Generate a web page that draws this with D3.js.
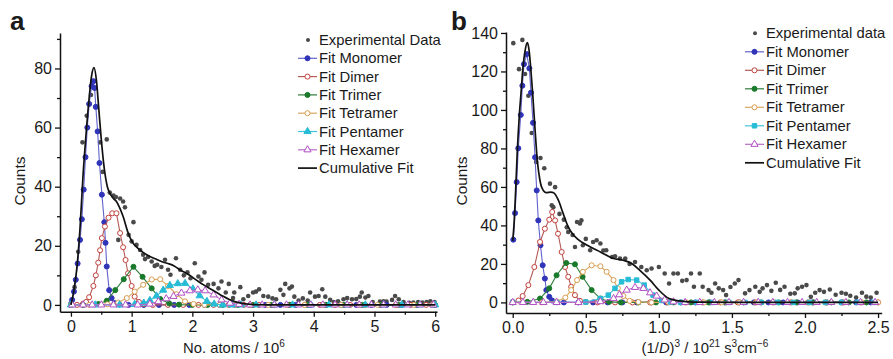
<!DOCTYPE html>
<html>
<head>
<meta charset="utf-8">
<script src="https://cdn.jsdelivr.net/npm/d3@7"></script>
<style>
  body { margin: 0; background: #fff; }
  text { font-family: "Liberation Sans", Arial, sans-serif; fill: #1a1a1a; }
</style>
</head>
<body>
<div id="chart"></div>
<script>
// ---------- panel a : counts vs number of atoms (10^6) ----------
var expA = [[0.01,0.5],[0.06,6],[0.12,18],[0.19,55],[0.26,64],[0.33,71],[0.41,67],[0.48,55],[0.52,45],[0.59,56],
  [0.64,38],[0.7,37],[0.74,36.5],[0.78,22],[0.81,36],[0.86,35],[0.89,33],[0.95,23.7],[1.0,21.5],[1.03,28],
  [1.08,20.3],[1.14,18.6],[1.19,17],[1.22,15.5],[1.27,16.2],[1.33,14.7],[1.38,13.2],[1.42,13.6],[1.49,12.8],[1.55,15.3],
  [1.6,11.9],[1.64,10.2],[1.73,15.8],[1.8,11.9],[1.86,10],[1.92,11],[1.97,9],[2.04,14.1],[2.1,9.6],[2.15,8.5],
  [2.2,11],[2.26,6.8],[2.35,7.1],[2.43,5.6],[2.48,7.9],[2.55,4.2],[2.6,7.1],[2.67,2.3],[2.69,4.2],[2.79,6],
  [2.84,1.9],[2.92,3],[3.0,4.2],[3.05,4.5],[3.1,5.3],[3.17,3],[3.25,2.8],[3.32,2.2],[3.38,1.9],[3.45,5.1],
  [3.5,3.4],[3.53,7.1],[3.6,5.6],[3.64,6.2],[3.68,2.8],[3.75,1.5],[3.82,2.2],[3.9,1.5],[3.94,4.2],[4.02,2.8],
  [4.08,3],[4.14,5.3],[4.19,2.8],[4.27,1.7],[4.33,1],[4.4,1.2],[4.49,1.9],[4.55,2.3],[4.63,1.9],[4.7,2],
  [4.76,2.8],[4.79,4.2],[4.85,2.5],[4.9,3],[4.97,1],[5.09,1.1],[5.15,1.2],[5.2,1.1],[5.29,1.7],[5.34,3],
  [5.4,1.9],[5.48,1],[5.57,0.7],[5.64,0.8],[5.72,1],[5.79,0.8],[5.86,1],[5.92,1.2],[5.99,1]];

var monomerA = [[0,0.3],[0.02,1.7],[0.05,4.5],[0.08,8.5],[0.11,14],[0.15,22],[0.18,29],[0.21,39],[0.24,50],[0.27,60],
  [0.30,68],[0.34,74],[0.37,75.7],[0.39,73.4],[0.41,67],[0.44,58.7],[0.47,48],[0.51,37.3],[0.55,28],[0.57,21],
  [0.59,13],[0.63,5],[0.67,2.3],[0.72,0.6],[0.8,0.1],[0.95,0],[1.2,0],[1.45,0],[1.7,0],[1.95,0],[2.2,0],[2.45,0],
  [2.7,0],[2.95,0],[3.2,0],[3.45,0],[3.7,0],[3.95,0],[4.2,0],[4.45,0],[4.7,0],[4.95,0],[5.2,0],[5.45,0],[5.7,0],[5.95,0]];

var dimerA = [[0,0],[0.1,0],[0.2,0.4],[0.25,1],[0.3,2.6],[0.37,6.4],[0.41,10],[0.45,14.3],[0.48,18.5],[0.51,22.6],
  [0.56,26.5],[0.62,29.5],[0.68,31],[0.75,31],[0.81,24.3],[0.86,19.5],[0.9,15.2],[0.94,10.7],[1.0,6.4],[1.05,2.8],
  [1.12,1],[1.2,0.3],[1.35,0],[1.6,0],[1.85,0],[2.1,0],[2.35,0],[2.6,0],[2.85,0],[3.1,0],[3.35,0],[3.6,0],
  [3.85,0],[4.1,0],[4.35,0],[4.6,0],[4.85,0],[5.1,0],[5.35,0],[5.6,0],[5.85,0]];

var trimerA = [[0,0],[0.2,0],[0.45,0.3],[0.59,1.4],[0.73,5],[0.87,8.7],[1.03,12.9],[1.18,9.5],[1.33,5.6],[1.47,2],
  [1.62,0.5],[1.78,0.1],[2.0,0],[2.25,0],[2.5,0],[2.75,0],[3.0,0],[3.3,0],[3.6,0],[3.9,0],[4.2,0],[4.5,0],
  [4.8,0],[5.1,0],[5.4,0],[5.7,0],[6.0,0]];

var tetramerA = [[0,0],[0.3,0],[0.6,0.2],[0.78,0.8],[0.92,2.3],[1.05,4.5],[1.19,6.8],[1.33,8.6],[1.47,8.7],[1.6,6.4],
  [1.74,3.6],[1.88,1.2],[2.02,0.3],[2.2,0],[2.45,0],[2.7,0],[2.95,0],[3.25,0],[3.55,0],[3.85,0],[4.15,0],
  [4.45,0],[4.75,0],[5.05,0],[5.35,0],[5.65,0],[5.95,0]];

var pentamerA = [[0,0],[0.4,0],[0.8,0],[1.05,0.2],[1.2,0.6],[1.3,1.5],[1.41,3],[1.52,5],[1.63,6.6],[1.76,7.2],
  [1.88,7.3],[2.01,5.4],[2.12,3.1],[2.24,1.2],[2.36,0.3],[2.5,0],[2.65,0],[2.8,0],[3.05,0],[3.35,0],[3.65,0],
  [3.95,0],[4.25,0],[4.55,0],[4.85,0],[5.15,0],[5.45,0],[5.75,0],[6.0,0]];

var hexamerA = [[0.02,0],[0.2,0],[0.35,0],[0.5,0],[0.7,0],[0.9,0],[1.1,0],[1.3,0.3],[1.44,1.1],[1.57,2.1],
  [1.69,2.9],[1.82,4],[1.96,4.8],[2.09,5.1],[2.21,4.8],[2.35,3.4],[2.48,1.7],[2.62,0.6],[2.77,0.2],[2.95,0],
  [3.15,0],[3.35,0],[3.55,0],[3.75,0],[3.95,0],[4.15,0],[4.35,0],[4.55,0],[4.75,0],[4.95,0],[5.15,0],
  [5.35,0],[5.55,0],[5.75,0],[5.97,0]];

var cumulativeA = [[0,0],[0.05,5],[0.1,13],[0.15,26],[0.2,44],[0.25,58],[0.3,70],[0.34,77.5],[0.38,80.3],[0.42,76],
  [0.46,66],[0.5,56],[0.55,46],[0.6,40],[0.65,37.5],[0.7,36],[0.75,35],[0.8,33],[0.86,29.9],[0.94,24.5],
  [1.02,21],[1.1,19.2],[1.2,17.6],[1.3,16.4],[1.4,15.5],[1.5,14.6],[1.6,14],[1.7,13.2],[1.8,11.8],[1.9,10.7],
  [2.0,9.4],[2.1,7.9],[2.2,6.6],[2.3,5.4],[2.4,4.2],[2.5,3],[2.6,1.9],[2.7,1.1],[2.8,0.6],[2.9,0.3],
  [3.0,0.1],[3.5,0],[6.0,0]];

var xTicksA = [0, 1, 2, 3, 4, 5, 6];
var xMinorA = [0.5, 1.5, 2.5, 3.5, 4.5, 5.5];
var yTicksA = [0, 20, 40, 60, 80];
var yMinorA = [10, 30, 50, 70, 90];
var legendA = ["Experimental Data", "Fit Monomer", "Fit Dimer", "Fit Trimer", "Fit Tetramer", "Fit Pentamer", "Fit Hexamer", "Cumulative Fit"];

// ---------- panel b : counts vs (1/D)^3 ----------
var expB = [[0.004,134.7],[0.043,121.2],[0.066,136.4],[0.084,118.7],[0.107,107.4],[0.13,88],[0.16,73],[0.19,75],[0.216,69.7],[0.255,61.7],
  [0.267,50.4],[0.278,49.5],[0.29,59.9],[0.32,46],[0.35,43],[0.37,39],[0.38,36.6],[0.41,35],[0.426,28.8],[0.44,41.8],
  [0.46,41],[0.47,42.6],[0.48,29.7],[0.5,33],[0.53,27.1],[0.55,31.4],[0.574,32.3],[0.6,30.6],[0.62,27],[0.64,27.1],
  [0.68,23.6],[0.7,24],[0.734,22.8],[0.77,22.8],[0.8,20],[0.837,21],[0.88,18.4],[0.917,16.7],[0.95,17.6],[1.0,18.4],
  [1.04,15],[1.07,9.8],[1.1,15],[1.13,15],[1.16,11.2],[1.19,11.6],[1.22,15],[1.24,8.1],[1.28,15],[1.3,8.1],
  [1.34,6.4],[1.36,5],[1.385,9.8],[1.41,7.3],[1.44,6.4],[1.46,3.8],[1.49,8],[1.52,9.8],[1.545,11.6],[1.59,4.7],
  [1.62,6.4],[1.66,8.1],[1.69,5.5],[1.71,7.3],[1.74,9],[1.77,6],[1.8,10.2],[1.83,6.5],[1.86,8.1],[1.9,4.5],
  [1.93,4.7],[1.95,7.3],[1.98,8.1],[2.01,9],[2.04,2.9],[2.07,5],[2.1,6.4],[2.13,5.5],[2.17,6.7],[2.21,4],
  [2.25,5],[2.28,4.5],[2.31,3.5],[2.35,2.5],[2.39,5],[2.42,3],[2.45,2.5],[2.49,5]];

var monomerB = [[0.004,32.6],[0.016,46.4],[0.027,62.5],[0.038,80.1],[0.055,97.4],[0.066,112.6],[0.077,123.8],[0.096,129],[0.114,121.6],[0.125,109],
  [0.139,93.3],[0.153,75.4],[0.164,58.2],[0.175,42.6],[0.19,29.7],[0.205,19.3],[0.22,12.4],[0.23,6.4],[0.25,2.9],[0.27,1],
  [0.3,0.3],[0.35,0],[0.45,0],[0.55,0],[0.65,0],[0.75,0],[0.85,0],[0.95,0],[1.05,0],[1.15,0],[1.25,0],[1.35,0],
  [1.45,0],[1.55,0],[1.65,0],[1.75,0],[1.85,0],[1.95,0],[2.05,0],[2.15,0],[2.25,0],[2.35,0],[2.45,0]];

var dimerB = [[0,0.2],[0.04,1],[0.068,3.3],[0.107,9],[0.148,18.4],[0.187,31.4],[0.22,38.3],[0.25,43],[0.27,47],[0.29,42.6],
  [0.31,35.7],[0.335,26.2],[0.358,18.4],[0.38,13.3],[0.4,8.1],[0.426,3.8],[0.46,0.8],[0.5,0.2],[0.58,0],[0.7,0],
  [0.82,0],[0.94,0],[1.06,0],[1.18,0],[1.3,0],[1.42,0],[1.54,0],[1.66,0],[1.78,0],[1.9,0],[2.02,0],[2.14,0],
  [2.26,0],[2.38,0],[2.5,0]];

var trimerB = [[0,0],[0.1,0.3],[0.187,2],[0.25,7.3],[0.3,14.1],[0.366,20.5],[0.426,19.8],[0.478,13.3],[0.54,6.4],[0.6,2],
  [0.66,0.3],[0.74,0],[0.86,0],[0.98,0],[1.1,0],[1.22,0],[1.34,0],[1.46,0],[1.58,0],[1.7,0],[1.82,0],[1.94,0],
  [2.06,0],[2.18,0],[2.3,0],[2.42,0]];

var tetramerB = [[0,0],[0.2,0],[0.3,0.5],[0.36,2.5],[0.4,6.4],[0.44,11.6],[0.48,15.9],[0.54,19.3],[0.6,18.8],[0.643,15.9],
  [0.69,11.6],[0.72,7.3],[0.757,3.3],[0.8,0.8],[0.86,0.2],[0.95,0],[1.07,0],[1.19,0],[1.31,0],[1.43,0],[1.55,0],
  [1.67,0],[1.79,0],[1.91,0],[2.03,0],[2.15,0],[2.27,0],[2.39,0],[2.5,0]];

var pentamerB = [[0,0],[0.3,0],[0.5,0.2],[0.6,2],[0.654,3.8],[0.7,7.3],[0.745,10.7],[0.79,11.9],[0.848,11.6],[0.9,9],
  [0.96,3.8],[1.02,1],[1.08,0.2],[1.15,0],[1.26,0],[1.37,0],[1.48,0],[1.59,0],[1.7,0],[1.81,0],[1.92,0],
  [2.03,0],[2.14,0],[2.25,0],[2.36,0],[2.47,0]];

var hexamerB = [[0,0],[0.07,0],[0.14,0],[0.21,0],[0.3,0],[0.45,0],[0.6,0.4],[0.69,2],[0.73,4],[0.78,6.4],
  [0.837,7.8],[0.894,7.3],[0.94,5],[0.985,3.3],[1.04,1.3],[1.1,0.3],[1.18,0],[1.28,0],[1.38,0],[1.48,0],
  [1.58,0],[1.68,0],[1.78,0],[1.88,0],[1.98,0],[2.08,0],[2.18,0],[2.28,0],[2.38,0],[2.48,0]];

var cumulativeB = [[0.0,32],[0.01,42],[0.02,58],[0.031,78],[0.045,97],[0.057,109],[0.07,122],[0.085,131],[0.1,135],[0.112,131],
  [0.125,120],[0.137,108],[0.15,93],[0.168,74],[0.185,64],[0.2,59.5],[0.23,57],[0.26,57.3],[0.28,57],[0.31,53.5],
  [0.346,46],[0.38,39.2],[0.41,35.5],[0.44,33.2],[0.51,29.7],[0.6,26.2],[0.69,22.8],[0.757,21.9],[0.814,20.2],[0.87,16.7],
  [0.94,11.6],[1.0,6.4],[1.07,2],[1.14,0.8],[1.2,0.3],[1.3,0.1],[1.5,0],[2.5,0]];

var xTicksB = [0, 0.5, 1.0, 1.5, 2.0, 2.5];
var xMinorB = [0.25, 0.75, 1.25, 1.75, 2.25];
var yTicksB = [0, 20, 40, 60, 80, 100, 120, 140];
var yMinorB = [10, 30, 50, 70, 90, 110, 130];
var legendB = ["Experimental data", "Fit Monomer", "Fit Dimer", "Fit Trimer", "Fit Tetramer", "Fit Pentamer", "Fit Hexamer", "Cumulative Fit"];

// ---------- drawing ----------
var W = 893, H = 359;
var svg = d3.select("#chart").append("svg").attr("width", W).attr("height", H);

var styles = [
  { color: "#3034b8", line: "#6262cc", shape: d3.symbolCircle, size: 20, filled: true },
  { color: "#c0413c", line: "#b55a57", shape: d3.symbolCircle, size: 20, filled: false },
  { color: "#1a7a2c", line: "#2e7d3b", shape: d3.symbolCircle, size: 20, filled: true },
  { color: "#d89d50", line: "#d9a862", shape: d3.symbolCircle, size: 20, filled: false },
  { color: "#26bcd6", line: "#3fc3da", shape: d3.symbolTriangle, size: 22, filled: true },
  { color: "#b14fc4", line: "#b86cc9", shape: d3.symbolTriangle, size: 22, filled: false }
];
var stylesB = styles.map(function (s) { return Object.assign({}, s); });
stylesB[4].shape = d3.symbolSquare; stylesB[4].size = 20;

function writeRich(sel, parts, fs) {
  parts.forEach(function (p) {
    var t = sel.append("tspan").text(p.t);
    if (p.i) t.style("font-style", "italic");
    if (p.sup) t.attr("dy", -6).attr("font-size", fs * 0.68);
    if (p.back) t.attr("dy", 6);
  });
}

function drawPanel(p) {
  var x = d3.scaleLinear().domain(p.xDomain).range(p.xRange);
  var y = d3.scaleLinear().domain(p.yDomain).range(p.yRange);
  var g = svg.append("g");

  // experimental points
  g.selectAll(null).data(p.exp).enter().append("circle")
    .attr("cx", function (d) { return x(d[0]); })
    .attr("cy", function (d) { return y(d[1]); })
    .attr("r", 2.3).attr("fill", "#4a4a4a");

  var line = d3.line().x(function (d) { return x(d[0]); }).y(function (d) { return y(d[1]); });

  // fitted components
  p.series.forEach(function (data, i) {
    var s = p.styles[i];
    g.append("path").datum(data).attr("d", line)
      .attr("fill", "none").attr("stroke", s.line).attr("stroke-width", 1.1);
    g.selectAll(null).data(data).enter().append("path")
      .attr("transform", function (d) { return "translate(" + x(d[0]) + "," + y(d[1]) + ")"; })
      .attr("d", d3.symbol(s.shape, s.size)())
      .attr("fill", s.filled ? s.color : "#fff")
      .attr("stroke", s.color).attr("stroke-width", 1);
  });

  // cumulative fit
  g.append("path").datum(p.cum)
    .attr("d", line.curve(d3.curveMonotoneX))
    .attr("fill", "none").attr("stroke", "#111").attr("stroke-width", 1.7);

  // axes
  g.append("g").attr("transform", "translate(0," + p.yRange[0] + ")")
    .call(d3.axisBottom(x).tickValues(p.xTicks).tickFormat(p.xFormat).tickSize(5).tickSizeOuter(0).tickPadding(4));
  g.append("g").attr("transform", "translate(0," + p.yRange[0] + ")")
    .call(d3.axisBottom(x).tickValues(p.xMinor).tickFormat("").tickSize(3).tickSizeOuter(0))
    .select(".domain").remove();
  g.append("g").attr("transform", "translate(" + p.xRange[0] + ",0)")
    .call(d3.axisLeft(y).tickValues(p.yTicks).tickSize(5).tickSizeOuter(0).tickPadding(3));
  g.append("g").attr("transform", "translate(" + p.xRange[0] + ",0)")
    .call(d3.axisLeft(y).tickValues(p.yMinor).tickFormat("").tickSize(3).tickSizeOuter(0))
    .select(".domain").remove();
  g.selectAll(".domain").attr("stroke", "#111").attr("stroke-width", 1.5);
  g.selectAll(".tick line").attr("stroke", "#111").attr("stroke-width", 1.3);
  g.selectAll(".tick text").attr("font-size", 16).attr("font-family", "Liberation Sans, Arial, sans-serif").attr("fill", "#1a1a1a");

  // axis titles
  g.append("text").attr("transform", "translate(" + p.yTitleX + ",181) rotate(-90)")
    .attr("text-anchor", "middle").attr("font-size", 15.5).text("Counts");
  var xt = g.append("text").attr("x", p.xTitleX).attr("y", 353)
    .attr("text-anchor", "middle").attr("font-size", 14.8);
  writeRich(xt, p.xTitle, 14.8);

  // panel letter
  g.append("text").attr("x", p.letterX).attr("y", 30).attr("font-size", 26)
    .attr("font-weight", "bold").text(p.letter);

  // legend
  var lg = g.append("g");
  p.legend.forEach(function (name, i) {
    var cy = p.legendY + i * p.legendStep;
    var row = lg.append("g");
    if (i === 0) {
      row.append("circle").attr("cx", p.legendX + 10).attr("cy", cy).attr("r", 2).attr("fill", "#4a4a4a");
    } else if (i === p.legend.length - 1) {
      row.append("line").attr("x1", p.legendX).attr("x2", p.legendX + 19).attr("y1", cy).attr("y2", cy)
        .attr("stroke", "#111").attr("stroke-width", 1.7);
    } else {
      var s = p.styles[i - 1];
      row.append("line").attr("x1", p.legendX).attr("x2", p.legendX + 19).attr("y1", cy).attr("y2", cy)
        .attr("stroke", s.line).attr("stroke-width", 1.2);
      row.append("path").attr("transform", "translate(" + (p.legendX + 9.5) + "," + cy + ")")
        .attr("d", d3.symbol(s.shape, s.size)())
        .attr("fill", s.filled ? s.color : "#fff").attr("stroke", s.color).attr("stroke-width", 1);
    }
    row.append("text").attr("x", p.legendX + 21).attr("y", cy + 5).attr("font-size", 14.8).text(name);
  });
}

drawPanel({
  letter: "a", letterX: 10,
  xDomain: [-0.18, 6.03], xRange: [60, 437],
  yDomain: [-2.3, 92], yRange: [311.7, 33],
  xTicks: xTicksA, xMinor: xMinorA, yTicks: yTicksA, yMinor: yMinorA,
  xFormat: d3.format("d"),
  exp: expA, cum: cumulativeA,
  series: [monomerA, dimerA, trimerA, tetramerA, pentamerA, hexamerA], styles: styles,
  yTitleX: 25, xTitleX: 234,
  xTitle: [{ t: "No. atoms / 10" }, { t: "6", sup: true }],
  legend: legendA, legendX: 298, legendY: 40, legendStep: 18.3
});

drawPanel({
  letter: "b", letterX: 451,
  xDomain: [-0.046, 2.525], xRange: [506, 881.7],
  yDomain: [-5.5, 140.5], yRange: [313, 32],
  xTicks: xTicksB, xMinor: xMinorB, yTicks: yTicksB, yMinor: yMinorB,
  xFormat: d3.format(".1f"),
  exp: expB, cum: cumulativeB,
  series: [monomerB, dimerB, trimerB, tetramerB, pentamerB, hexamerB], styles: stylesB,
  yTitleX: 467, xTitleX: 705,
  xTitle: [{ t: "(1/" }, { t: "D", i: true }, { t: ")" }, { t: "3", sup: true }, { t: " / 10", back: true },
           { t: "21", sup: true }, { t: " s", back: true }, { t: "3", sup: true }, { t: "cm", back: true }, { t: "\u22126", sup: true }],
  legend: legendB, legendX: 745, legendY: 33.3, legendStep: 18.5
});
</script>
</body>
</html>
